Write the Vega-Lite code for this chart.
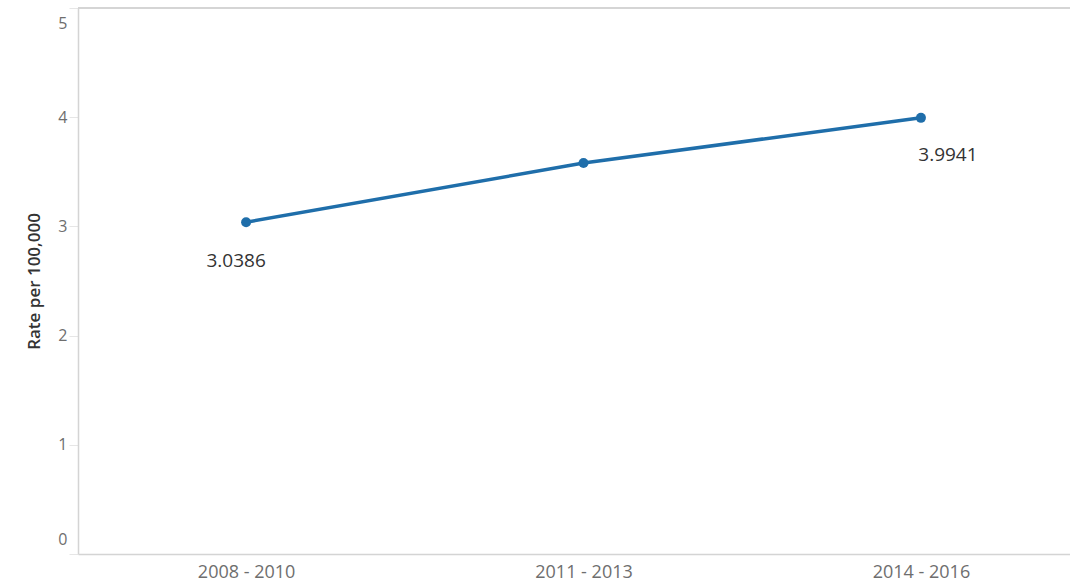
{
  "$schema": "https://vega.github.io/schema/vega-lite/v6.json",
  "width": 992,
  "height": 546,
  "autosize": "none",
  "padding": {"left": 78, "top": 8, "right": 0, "bottom": 30},
  "background": "white",
  "config": {
    "view": {"stroke": null},
    "font": "Open Sans"
  },
  "data": {
    "values": [
      {"period": "2008 - 2010", "rate": 3.0386, "label": "3.0386", "idx": 0},
      {"period": "2011 - 2013", "rate": 3.58, "label": "", "idx": 1},
      {"period": "2014 - 2016", "rate": 3.9941, "label": "3.9941", "idx": 2}
    ]
  },
  "encoding": {
    "x": {
      "field": "period",
      "type": "ordinal",
      "sort": null,
      "scale": {"type": "point", "padding": 0.47, "align": 0.53},
      "axis": {
        "title": null,
        "labelAngle": 0,
        "labelFont": "Open Sans",
        "labelFontSize": 18,
        "labelColor": "#6e6e6e",
        "labelPadding": 9,
        "ticks": false,
        "domain": true,
        "domainColor": "#d4d4d4",
        "domainWidth": 1.5,
        "grid": false
      }
    },
    "y": {
      "field": "rate",
      "type": "quantitative",
      "scale": {"domain": [0, 5], "nice": false},
      "axis": {
        "title": "Rate per 100,000",
        "titleFont": "Open Sans",
        "titleFontSize": 17,
        "titleFontWeight": 600,
        "titleColor": "#333333",
        "titlePadding": 14,
        "values": [0, 1, 2, 3, 4, 5],
        "labelFont": "Open Sans",
        "labelFontSize": 16,
        "labelColor": "#6e6e6e",
        "labelPadding": 2,
        "labelFlush": true,
        "labelFlushOffset": -7,
        "tickColor": "#e6e6e6",
        "tickSize": 9,
        "domain": true,
        "domainColor": "#d4d4d4",
        "domainWidth": 1.5,
        "grid": false
      }
    }
  },
  "layer": [
    {
      "mark": {"type": "line", "color": "#1f6eaa", "strokeWidth": 3.5}
    },
    {
      "mark": {"type": "point", "filled": true, "color": "#1f6eaa", "size": 100, "opacity": 1}
    },
    {
      "transform": [{"filter": "datum.idx == 0"}],
      "mark": {"type": "text", "dx": -10, "dy": 39, "fontSize": 19, "color": "#333333", "font": "Open Sans"},
      "encoding": {"text": {"field": "label"}}
    },
    {
      "transform": [{"filter": "datum.idx == 2"}],
      "mark": {"type": "text", "dx": 27, "dy": 37, "fontSize": 19, "color": "#333333", "font": "Open Sans"},
      "encoding": {"text": {"field": "label"}}
    },
    {
      "mark": {"type": "rule", "color": "#d4d4d4", "strokeWidth": 1.5},
      "encoding": {"y": {"datum": 5}, "x": null}
    }
  ]
}
